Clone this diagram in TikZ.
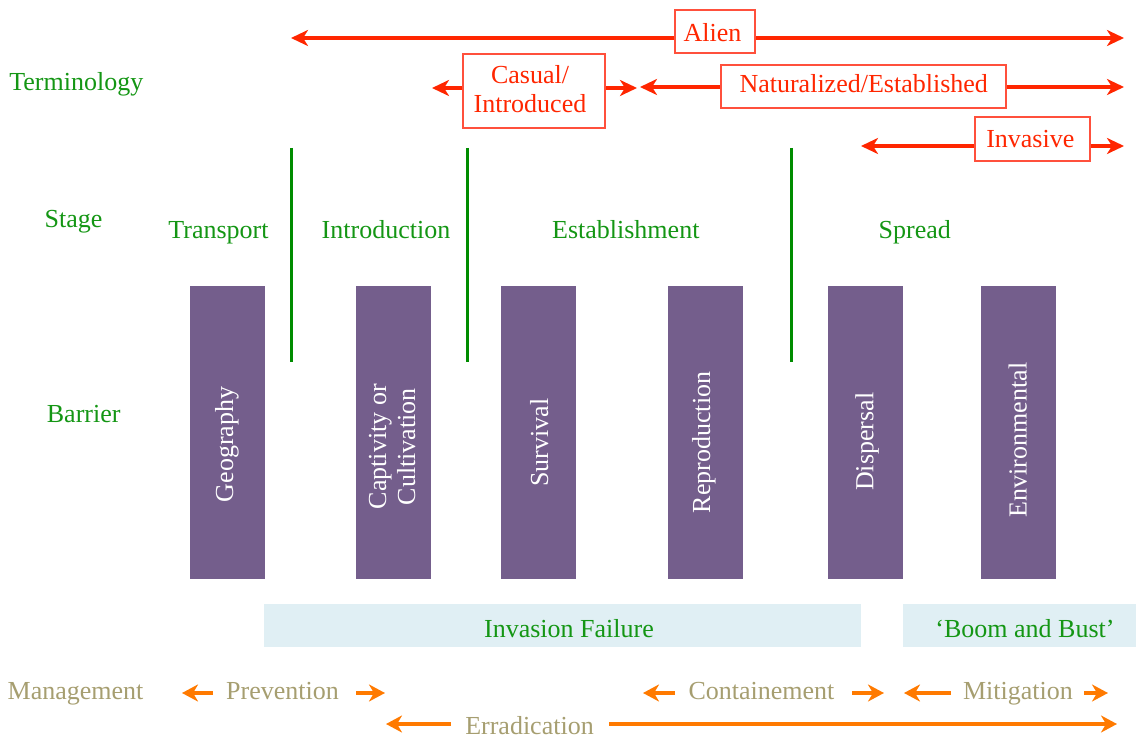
\documentclass[tikz,border=0pt]{standalone}
\usepackage{fontspec}
\setmainfont{Liberation Serif}
\usetikzlibrary{arrows.meta}
\definecolor{tred}{RGB}{255,38,0}
\definecolor{tredbox}{RGB}{255,80,60}
\definecolor{tgreen}{RGB}{0,140,0}
\definecolor{lgreen}{RGB}{20,150,20}
\definecolor{barcol}{RGB}{116,94,140}
\definecolor{lblue}{RGB}{224,239,244}
\definecolor{khaki}{RGB}{166,158,112}
\definecolor{orng}{RGB}{255,122,0}
\begin{document}
\begin{tikzpicture}[x=1pt,y=-1pt,
  lbl/.style={font=\fontsize{26}{29}\selectfont, inner sep=0pt, anchor=base},
  greentext/.style={lbl,text=lgreen},
  redtext/.style={lbl,text=tred,align=center},
  termbox/.style={draw=tredbox,line width=1.2pt,fill=white,inner sep=0pt},
  redarrb/.style={tred,line width=3.2pt,{Stealth[length=17pt,width=16pt,inset=5pt]}-{Stealth[length=17pt,width=16pt,inset=5pt]}},
  stageline/.style={tgreen,line width=3pt},
  barbox/.style={fill=barcol,draw=none,minimum width=75pt,minimum height=293pt,inner sep=0pt},
  bartext/.style={lbl,text=white,rotate=90,align=center},
  bluebox/.style={fill=lblue,draw=none,minimum height=43pt,inner sep=0pt},
  mgmt/.style={lbl,text=khaki},
  oarr/.style={orng,line width=3.6pt,-{Stealth[length=16pt,width=17pt,inset=5pt]}}
]
\useasboundingbox (0,0) rectangle (1136,738);

% row labels
\node[greentext] (lterm) at (76.3,91) {Terminology};
\node[greentext] (lstage) at (73.5,227.5) {Stage};
\node[greentext] (lbarrier) at (83.7,422.5) {Barrier};

% terminology arrows
\coordinate (alienL) at (291,38);
\coordinate (alienR) at (1124,38);
\draw[redarrb] (alienL) -- (alienR);
\node[termbox,minimum width=80pt,minimum height=43pt] (alien) at (715,31.5) {};
\node[redtext] (alient) at (712.5,41.5) {Alien};

\coordinate (casL) at (432,88);
\coordinate (casR) at (637,88);
\draw[redarrb] (casL) -- (casR);
\node[termbox,minimum width=142pt,minimum height=74pt] (casual) at (534,91) {};
\node[redtext] (casualt) at (530,112.5) {Casual/\\Introduced};

\coordinate (natL) at (640,87);
\coordinate (natR) at (1124,87);
\draw[redarrb] (natL) -- (natR);
\node[termbox,minimum width=285pt,minimum height=43pt] (nat) at (863.5,86.5) {};
\node[redtext] (natt) at (863.7,93) {Naturalized/Established};

\coordinate (invL) at (861,146);
\coordinate (invR) at (1124,146);
\draw[redarrb] (invL) -- (invR);
\node[termbox,minimum width=115pt,minimum height=44pt] (inv) at (1032.5,139) {};
\node[redtext] (invt) at (1030.3,147.5) {Invasive};

% stage lines
\coordinate (s1t) at (291,148); \coordinate (s1b) at (291,362);
\coordinate (s2t) at (467,148); \coordinate (s2b) at (467,362);
\coordinate (s3t) at (791,148); \coordinate (s3b) at (791,362);
\draw[stageline] (s1t) -- (s1b);
\draw[stageline] (s2t) -- (s2b);
\draw[stageline] (s3t) -- (s3b);

% stage names
\node[greentext] (transport) at (218.5,239) {Transport};
\node[greentext] (intro) at (386,239) {Introduction};
\node[greentext] (establ) at (625.8,239) {Establishment};
\node[greentext] (spread) at (914.8,239) {Spread};

% barriers
\node[barbox] (geo) at (227.5,432.5) {};
\node[barbox] (cap) at (393.5,432.5) {};
\node[barbox] (surv) at (538.5,432.5) {};
\node[barbox] (repr) at (705.5,432.5) {};
\node[barbox] (disp) at (865.5,432.5) {};
\node[barbox] (env) at (1018.5,432.5) {};
\node[bartext] (geot) at (233,444.3) {Geography};
\node[bartext] (capt) at (415,446.7) {Captivity or\\Cultivation};
\node[bartext] (survt) at (548,442.7) {Survival};
\node[bartext] (reprt) at (710,442.5) {Reproduction};
\node[bartext] (dispt) at (873.3,441.7) {Dispersal};
\node[bartext] (envt) at (1026.7,440) {Environmental};

% outcome boxes
\node[bluebox,minimum width=597pt] (fail) at (562.5,625.5) {};
\node[greentext] (failt) at (569,637.5) {Invasion Failure};
\node[bluebox,minimum width=233pt] (boom) at (1019.5,625.5) {};
\node[greentext] (boomt) at (1025,637.5) {`Boom and Bust'};

% management
\node[mgmt] (lmgmt) at (75.5,699) {Management};
\node[mgmt] (prev) at (282.5,699) {Prevention};
\node[mgmt] (cont) at (761.5,699) {Containement};
\node[mgmt] (miti) at (1018,699) {Mitigation};
\node[mgmt] (erad) at (529.5,734) {Erradication};

\coordinate (p1a) at (213,693); \coordinate (p1b) at (182,693);
\coordinate (p2a) at (356,693); \coordinate (p2b) at (385,693);
\draw[oarr] (p1a) -- (p1b);
\draw[oarr] (p2a) -- (p2b);
\coordinate (c1a) at (675,693); \coordinate (c1b) at (643,693);
\coordinate (c2a) at (852,693); \coordinate (c2b) at (884,693);
\draw[oarr] (c1a) -- (c1b);
\draw[oarr] (c2a) -- (c2b);
\coordinate (m1a) at (951,693); \coordinate (m1b) at (904,693);
\coordinate (m2a) at (1084,693); \coordinate (m2b) at (1108,693);
\draw[oarr] (m1a) -- (m1b);
\draw[oarr] (m2a) -- (m2b);
\coordinate (e1a) at (451,724); \coordinate (e1b) at (386,724);
\coordinate (e2a) at (609,724); \coordinate (e2b) at (1117,724);
\draw[oarr] (e1a) -- (e1b);
\draw[oarr] (e2a) -- (e2b);
\end{tikzpicture}
\end{document}
